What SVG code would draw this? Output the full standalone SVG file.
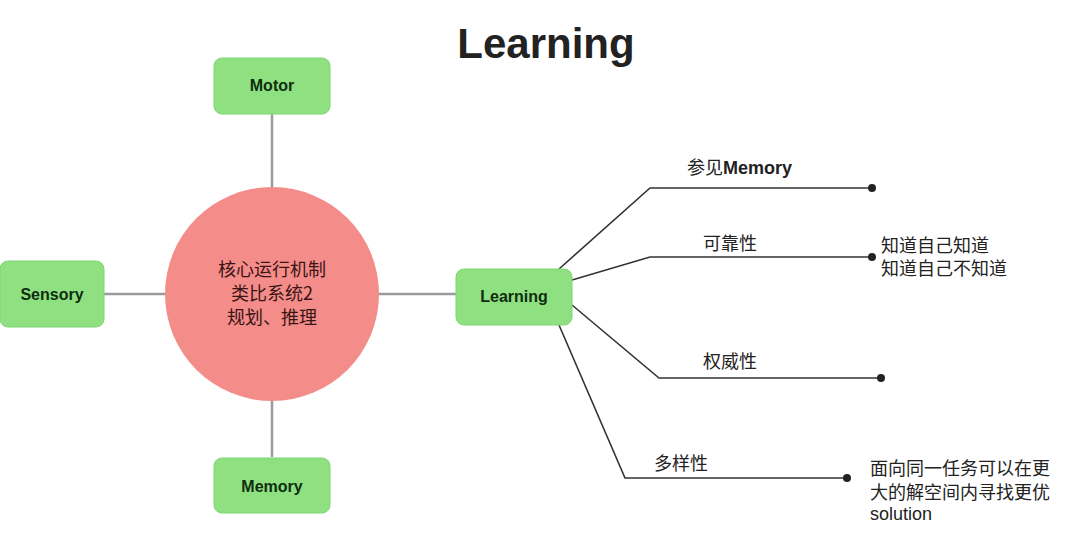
<svg xmlns="http://www.w3.org/2000/svg" width="1080" height="545" viewBox="0 0 1080 545">
<style>
.box{fill:#8ee081;stroke:#7fd672;stroke-width:1}
.bt{font-family:"Liberation Sans",Arial,sans-serif;font-weight:bold;font-size:16px;fill:#0f2e0f;text-anchor:middle}
.hub{stroke:#9a9a9a;stroke-width:2.5;fill:none}
.br{stroke:#333;stroke-width:1.6;fill:none}
.dot{fill:#222}
.lbl{font-family:"Liberation Sans","Noto Sans CJK SC",sans-serif;font-size:18px;fill:#222}
.ct{font-family:"Noto Sans CJK SC","Liberation Sans",sans-serif;font-size:18px;fill:#3a1414;text-anchor:middle}
</style>
<rect width="1080" height="545" fill="#fff"/>
<text x="546" y="58" font-family="Liberation Sans,Arial,sans-serif" font-weight="bold" font-size="42" fill="#222" text-anchor="middle">Learning</text>
<g id="connectors">
<line class="hub" x1="272" y1="114" x2="272" y2="187"/>
<line class="hub" x1="104" y1="294" x2="165" y2="294"/>
<line class="hub" x1="379" y1="294" x2="456" y2="294"/>
<line class="hub" x1="272" y1="401" x2="272" y2="457"/>
<polyline class="br" points="559,269 650,188 872,188"/>
<polyline class="br" points="572,280 650,257 872,257"/>
<polyline class="br" points="572,305 659,378 881,378"/>
<polyline class="br" points="559,325 625,478 847,478"/>
<circle class="dot" cx="872" cy="188" r="4"/>
<circle class="dot" cx="872" cy="257" r="4"/>
<circle class="dot" cx="881" cy="378" r="4"/>
<circle class="dot" cx="847" cy="478" r="4"/>
</g>
<g id="core">
<circle cx="272" cy="294" r="107" fill="#f48c8a"/>
<text class="ct" x="272" y="276">核心运行机制</text>
<text class="ct" x="272" y="300">类比系统2</text>
<text class="ct" x="272" y="324">规划、推理</text>
</g>
<g id="motor"><rect class="box" x="214" y="58" width="116" height="56" rx="8"/><text class="bt" x="272" y="91">Motor</text></g>
<g id="sensory"><rect class="box" x="0" y="261" width="104" height="66" rx="8"/><text class="bt" x="52" y="300">Sensory</text></g>
<g id="memory"><rect class="box" x="214" y="458" width="116" height="55" rx="8"/><text class="bt" x="272" y="492">Memory</text></g>
<g id="learning"><rect class="box" x="456" y="269" width="116" height="56" rx="8"/><text class="bt" x="514" y="302">Learning</text></g>
<g id="labels">
<text class="lbl" x="687" y="174">参见<tspan font-weight="bold">Memory</tspan></text>
<text class="lbl" x="703" y="250">可靠性</text>
<text class="lbl" x="703" y="368">权威性</text>
<text class="lbl" x="654" y="470">多样性</text>
<text class="lbl" x="881" y="252">知道自己知道</text>
<text class="lbl" x="881" y="275">知道自己不知道</text>
<text class="lbl" x="870" y="475" font-size="19">面向同一任务可以在更</text>
<text class="lbl" x="870" y="499" font-size="19">大的解空间内寻找更优</text>
<text class="lbl" x="870" y="520" font-size="18">solution</text>
</g>
</svg>
